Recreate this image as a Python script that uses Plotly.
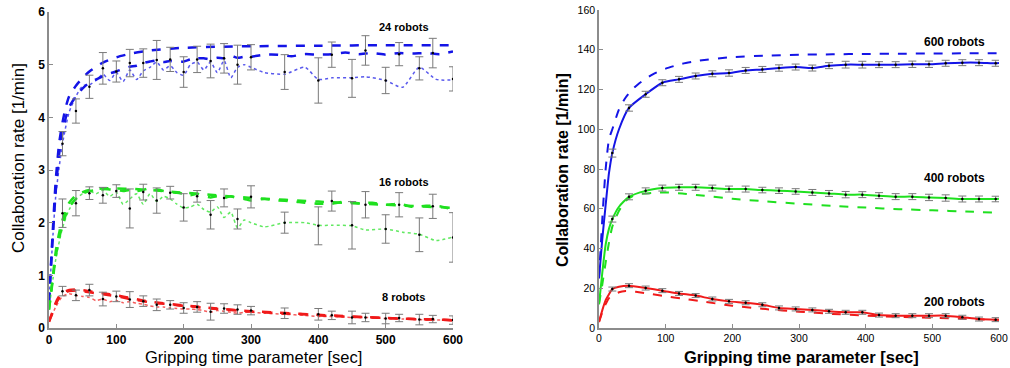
import plotly.graph_objects as go

# ---------------- LEFT PANEL (8 / 16 / 24 robots) ----------------
tA = [0, 5, 10, 15, 20, 25, 30, 40, 50, 60, 80, 100, 125, 150, 200, 250, 300, 400, 500, 600]
blue_model = [0.5, 1.7, 2.8, 3.5, 3.9, 4.2, 4.4, 4.6, 4.75, 4.87, 5.04, 5.14, 5.22, 5.27, 5.32, 5.34, 5.35, 5.36, 5.37, 5.37]
green_model = [0.35, 0.9, 1.45, 1.8, 2.05, 2.25, 2.38, 2.52, 2.58, 2.62, 2.65, 2.65, 2.64, 2.62, 2.57, 2.52, 2.47, 2.4, 2.34, 2.28]
red_model = [0.12, 0.3, 0.48, 0.6, 0.67, 0.7, 0.72, 0.73, 0.72, 0.7, 0.66, 0.62, 0.56, 0.5, 0.43, 0.37, 0.32, 0.25, 0.19, 0.15]

tB = [0, 5, 10, 15, 20, 25, 30, 40, 50, 60, 70, 80, 90, 100, 110, 120, 130, 140, 150, 160,
      170, 180, 190, 200, 210, 220, 230, 240, 250, 260, 270, 280, 290, 300, 320, 340, 360, 380,
      400, 420, 440, 460, 480, 500, 520, 540, 560, 580, 600]
blue_sim = [0.5, 1.6, 2.6, 3.3, 3.7, 4.0, 4.2, 4.4, 4.55, 4.66, 4.72, 4.78, 4.83, 4.87, 4.92, 4.96, 4.98, 5.03, 5.06, 5.08,
            5.05, 5.07, 5.05, 5.06, 5.1, 5.12, 5.12, 5.1, 5.13, 5.12, 5.17, 5.13, 5.15, 5.15, 5.19, 5.19, 5.16, 5.2,
            5.19, 5.2, 5.23, 5.2, 5.22, 5.19, 5.22, 5.21, 5.22, 5.2, 5.25]
green_sim = [0.35, 0.85, 1.35, 1.7, 1.95, 2.15, 2.3, 2.45, 2.55, 2.6, 2.62, 2.64, 2.63, 2.62, 2.6, 2.62, 2.6, 2.62, 2.66, 2.63,
             2.6, 2.58, 2.57, 2.55, 2.52, 2.55, 2.5, 2.48, 2.5, 2.47, 2.5, 2.46, 2.45, 2.42, 2.45, 2.42, 2.41, 2.38,
             2.36, 2.36, 2.4, 2.37, 2.38, 2.34, 2.36, 2.3, 2.32, 2.31, 2.25]
red_sim = [0.12, 0.28, 0.45, 0.57, 0.64, 0.68, 0.7, 0.71, 0.7, 0.68, 0.66, 0.64, 0.62, 0.6, 0.58, 0.55, 0.53, 0.51, 0.49, 0.47,
           0.46, 0.45, 0.43, 0.42, 0.41, 0.4, 0.38, 0.37, 0.36, 0.35, 0.34, 0.33, 0.32, 0.31, 0.3, 0.28, 0.27, 0.26,
           0.24, 0.23, 0.22, 0.21, 0.2, 0.19, 0.18, 0.17, 0.16, 0.16, 0.14]

tC = [0, 10, 20, 30, 40, 50, 60, 70, 80, 90, 100, 110, 120, 130, 140, 150, 160, 170, 180, 190, 200,
      210, 220, 230, 240, 250, 260, 270, 280, 290, 300, 320, 350, 380, 400, 420, 450, 470, 500, 525, 550, 575, 600]
blue_exp = [0.5, 2.5, 3.5, 4.1, 4.4, 4.6, 4.62, 4.7, 4.82, 4.7, 4.85, 4.68, 4.9, 4.72, 4.88, 4.95, 5.05, 4.9, 4.98, 4.85, 4.8,
            5.0, 5.05, 4.9, 5.05, 4.85, 5.08, 4.75, 4.95, 5.0, 4.95, 4.85, 4.82, 4.95, 4.72, 4.75, 4.75, 4.77, 4.7, 4.57, 4.95, 4.72, 4.71]
green_exp = [0.35, 1.3, 1.9, 2.25, 2.45, 2.55, 2.6, 2.55, 2.62, 2.5, 2.58, 2.35, 2.45, 2.55, 2.35, 2.55, 2.4, 2.5, 2.45, 2.35, 2.28,
             2.3, 2.35, 2.25, 2.2, 2.3, 2.1, 2.2, 1.9, 2.05, 2.0, 1.92, 2.0, 2.0, 1.95, 1.95, 1.94, 1.86, 1.88, 1.82, 1.78, 1.66, 1.73]
red_exp = [0.12, 0.4, 0.6, 0.65, 0.62, 0.6, 0.58, 0.52, 0.55, 0.5, 0.52, 0.48, 0.5, 0.47, 0.45, 0.42, 0.4, 0.4, 0.38, 0.37, 0.36,
           0.36, 0.35, 0.33, 0.3, 0.33, 0.32, 0.3, 0.28, 0.3, 0.3, 0.28, 0.26, 0.24, 0.22, 0.22, 0.2, 0.2, 0.18, 0.17, 0.16, 0.15, 0.15]

tE = [20, 40, 60, 80, 100, 120, 140, 160, 180, 200, 220, 240, 260, 280, 300, 350, 400, 420, 450, 470, 500, 520, 550, 570, 600]
blue_err_mean = [3.5, 4.12, 4.58, 4.93, 4.87, 5.03, 5.03, 5.09, 5.1, 4.86, 5.1, 5.07, 5.12, 5.0, 5.14, 4.86, 4.7, 5.19, 4.74, 5.27, 4.7, 5.2, 4.93, 5.22, 4.73]
blue_err = [0.23, 0.23, 0.22, 0.3, 0.2, 0.26, 0.27, 0.37, 0.23, 0.29, 0.25, 0.32, 0.28, 0.37, 0.24, 0.33, 0.43, 0.24, 0.36, 0.28, 0.25, 0.22, 0.22, 0.28, 0.23]
green_err_mean = [2.18, 2.37, 2.56, 2.52, 2.6, 2.27, 2.58, 2.42, 2.57, 2.29, 2.5, 2.15, 2.47, 2.07, 2.49, 2.0, 1.94, 2.41, 1.95, 2.34, 1.88, 2.34, 1.77, 2.31, 1.72]
green_err = [0.27, 0.24, 0.12, 0.15, 0.12, 0.37, 0.15, 0.24, 0.12, 0.26, 0.11, 0.27, 0.17, 0.19, 0.21, 0.2, 0.36, 0.19, 0.45, 0.25, 0.27, 0.23, 0.32, 0.23, 0.47]
red_err_mean = [0.7, 0.62, 0.72, 0.55, 0.6, 0.54, 0.51, 0.44, 0.44, 0.38, 0.4, 0.31, 0.37, 0.35, 0.33, 0.28, 0.26, 0.24, 0.2, 0.2, 0.18, 0.19, 0.16, 0.17, 0.15]
red_err = [0.09, 0.1, 0.11, 0.13, 0.1, 0.15, 0.1, 0.11, 0.08, 0.1, 0.1, 0.16, 0.09, 0.09, 0.08, 0.1, 0.11, 0.08, 0.12, 0.08, 0.1, 0.07, 0.1, 0.07, 0.08]

left_labels = ["24 robots", "16 robots", "8 robots"]
left_label_y = [5.71, 2.77, 0.59]

# ---------------- RIGHT PANEL (200 / 400 / 600 robots) ----------------
tR = [0, 5, 10, 15, 20, 30, 45, 70, 95, 120, 145, 170, 195, 220, 245, 270, 295, 320, 345, 370,
      395, 420, 445, 470, 495, 520, 545, 570, 595, 600]
blue_solid = [25, 45, 62, 78, 88, 100, 110.7, 117.6, 123.4, 125.1, 126.8, 127.9, 128.3, 129.6, 130.1, 130.8, 131.3, 130.8, 132, 132.5,
              132.5, 132.5, 132.5, 132.7, 132.7, 133.2, 133.5, 133.5, 133.2, 133.3]
green_solid = [12, 28, 42, 50, 54.8, 61, 66, 69, 70.4, 70.8, 70.8, 70.4, 69.9, 69.9, 69.4, 69.1, 68.7, 68.2, 67.7, 67.1,
               67.1, 66.6, 66.1, 66.1, 65.7, 65.4, 64.9, 64.9, 64.9, 65]
red_solid = [3, 9, 14, 17, 19.6, 20.8, 21.3, 20.1, 18.8, 17.4, 16.3, 14.6, 13.4, 12.7, 11.7, 10.1, 9.6, 9.1, 8.4, 7.9,
             7.9, 6.5, 6.2, 6.2, 6.2, 6.2, 5.4, 4.5, 4.2, 4.2]

tM = [0, 5, 10, 15, 20, 30, 40, 50, 60, 80, 100, 125, 150, 200, 250, 300, 350, 400, 450, 500, 550, 600]
blue_dash = [25, 55, 80, 95, 100, 110, 116, 120, 123, 127.5, 130.5, 133, 134.5, 136.3, 137, 137.5, 137.7, 137.9, 138, 138.1, 138.2, 138.3]
green_dash = [12, 22, 33, 43, 51, 59, 64, 66.3, 67.3, 68, 68.2, 67.7, 66.8, 65, 63.7, 62.5, 61.5, 60.6, 59.8, 59.2, 58.6, 58]
red_dash = [3, 8, 12, 15, 16.3, 18, 18.6, 18.4, 18, 17, 16, 14.8, 13.6, 11.2, 9.5, 8.2, 7.1, 6.2, 5.6, 5.1, 4.6, 4.1]

tRE = [20, 45, 70, 95, 120, 145, 170, 195, 220, 245, 270, 295, 320, 345, 370, 395, 420, 445, 470, 495, 520, 545, 570, 595]
blue_err_r = [2.0, 1.6, 1.5, 1.5, 1.5, 1.5, 1.5, 1.6, 1.5, 1.5, 1.6, 1.5, 1.5, 1.5, 1.7, 1.7, 1.5, 1.5, 1.6, 1.6, 1.5, 1.5, 1.5, 1.5]
green_err_r = [1.5, 1.5, 1.5, 1.5, 1.5, 1.5, 1.5, 1.5, 1.5, 1.4, 1.4, 1.4, 1.5, 1.5, 1.6, 1.5, 1.5, 1.5, 1.5, 1.6, 1.6, 1.5, 1.5, 1.4]
red_err_r = [1.0, 1.0, 1.0, 1.0, 1.0, 1.0, 1.0, 1.0, 1.0, 1.0, 1.0, 1.0, 1.0, 1.0, 1.0, 1.0, 1.0, 1.0, 1.0, 1.0, 1.0, 1.0, 1.0, 1.0]

right_labels = ["600 robots", "400 robots", "200 robots"]
right_label_y = [144, 75.5, 13]

BLUE = "#1414e6"
GREEN = "#1fe01f"
RED = "#f01a1a"
ERR = "#7a7a7a"
FONT = "Arial, Liberation Sans, sans-serif"

fig = go.Figure()


def line(x, y, color, dash, width, xa, ya, opacity=1.0):
    fig.add_trace(go.Scatter(x=x, y=y, mode="lines", line=dict(color=color, dash=dash, width=width, shape="spline", smoothing=0.6),
                             opacity=opacity, xaxis=xa, yaxis=ya, showlegend=False, hoverinfo="skip"))


def errs(x, y, e, xa, ya, w):
    fig.add_trace(go.Scatter(x=x, y=y, mode="markers", marker=dict(color="black", size=2.5),
                             error_y=dict(type="data", array=e, color=ERR, thickness=1, width=w),
                             xaxis=xa, yaxis=ya, showlegend=False, hoverinfo="skip"))


def at_times(ts, vs, wanted):
    lookup = dict(zip(ts, vs))
    return [lookup[t] for t in wanted]


# left
for col, m, s, ex in [(BLUE, blue_model, blue_sim, blue_exp), (GREEN, green_model, green_sim, green_exp), (RED, red_model, red_sim, red_exp)]:
    line(tC, ex, col, "dot", 1.5, "x", "y", 0.7)
    line(tA, m, col, "dash", 2.5, "x", "y")
    line(tB, s, col, "dash", 2.5, "x", "y")
errs(tE, blue_err_mean, blue_err, "x", "y", 4)
errs(tE, green_err_mean, green_err, "x", "y", 4)
errs(tE, red_err_mean, red_err, "x", "y", 4)

# right
for col, sol, das in [(BLUE, blue_solid, blue_dash), (GREEN, green_solid, green_dash), (RED, red_solid, red_dash)]:
    line(tM, das, col, "dash", 2, "x2", "y2")
    line(tR, sol, col, "solid", 2, "x2", "y2")
errs(tRE, at_times(tR, blue_solid, tRE), blue_err_r, "x2", "y2", 4)
errs(tRE, at_times(tR, green_solid, tRE), green_err_r, "x2", "y2", 4)
errs(tRE, at_times(tR, red_solid, tRE), red_err_r, "x2", "y2", 4)

annots = []
for txt, yv in zip(left_labels, left_label_y):
    annots.append(dict(x=527, y=yv, xref="x", yref="y", text="<b>" + txt + "</b>", showarrow=False,
                       font=dict(family=FONT, size=11, color="black")))
for txt, yv in zip(right_labels, right_label_y):
    annots.append(dict(x=533, y=yv, xref="x2", yref="y2", text="<b>" + txt + "</b>", showarrow=False,
                       font=dict(family=FONT, size=12, color="black")))
# axis titles
annots += [
    dict(x=253 / 1010, y=(368 - 357) / 368, xref="paper", yref="paper", text="Gripping time parameter [sec]", showarrow=False,
         xanchor="center", yanchor="middle", font=dict(family=FONT, size=16.5, color="black")),
    dict(x=18 / 1010, y=(368 - 158) / 368, xref="paper", yref="paper", text="Collaboration rate [1/min]", showarrow=False,
         xanchor="center", yanchor="middle", textangle=-90, font=dict(family=FONT, size=17, color="black")),
    dict(x=801 / 1010, y=(368 - 357) / 368, xref="paper", yref="paper", text="<b>Gripping time parameter [sec]</b>", showarrow=False,
         xanchor="center", yanchor="middle", font=dict(family=FONT, size=16.5, color="black")),
    dict(x=562 / 1010, y=(368 - 170) / 368, xref="paper", yref="paper", text="<b>Collaboration rate [1/min]</b>", showarrow=False,
         xanchor="center", yanchor="middle", textangle=-90, font=dict(family=FONT, size=16, color="black")),
]

axis_common = dict(showgrid=False, zeroline=False, showline=True, linecolor="#8c8c8c", linewidth=1.5,
                   ticks="inside", ticklen=4, tickcolor="#8c8c8c", mirror=False, automargin=False)

fig.update_layout(
    template="none",
    width=1010, height=368, margin=dict(l=0, r=0, t=0, b=0, pad=0, autoexpand=False),
    paper_bgcolor="white", plot_bgcolor="white",
    xaxis=dict(domain=[49 / 1010, 453 / 1010], range=[0, 600], tickvals=[0, 100, 200, 300, 400, 500, 600],
               tickfont=dict(family=FONT, size=12, color="black", weight="bold"), anchor="y", **axis_common),
    yaxis=dict(domain=[40 / 368, 356 / 368], range=[0, 6], tickvals=[0, 1, 2, 3, 4, 5, 6],
               tickfont=dict(family=FONT, size=12, color="black", weight="bold"), anchor="x", **axis_common),
    xaxis2=dict(domain=[599 / 1010, 999 / 1010], range=[0, 600], tickvals=[0, 100, 200, 300, 400, 500, 600],
                tickfont=dict(family=FONT, size=10.5, color="black"), anchor="y2", ticklabeloverflow="allow", **axis_common),
    yaxis2=dict(domain=[40 / 368, 358 / 368], range=[0, 160], tickvals=[0, 20, 40, 60, 80, 100, 120, 140, 160],
                tickfont=dict(family=FONT, size=10.5, color="black"), anchor="x2", **axis_common),
    annotations=annots,
)

fig.write_html("out.html")
